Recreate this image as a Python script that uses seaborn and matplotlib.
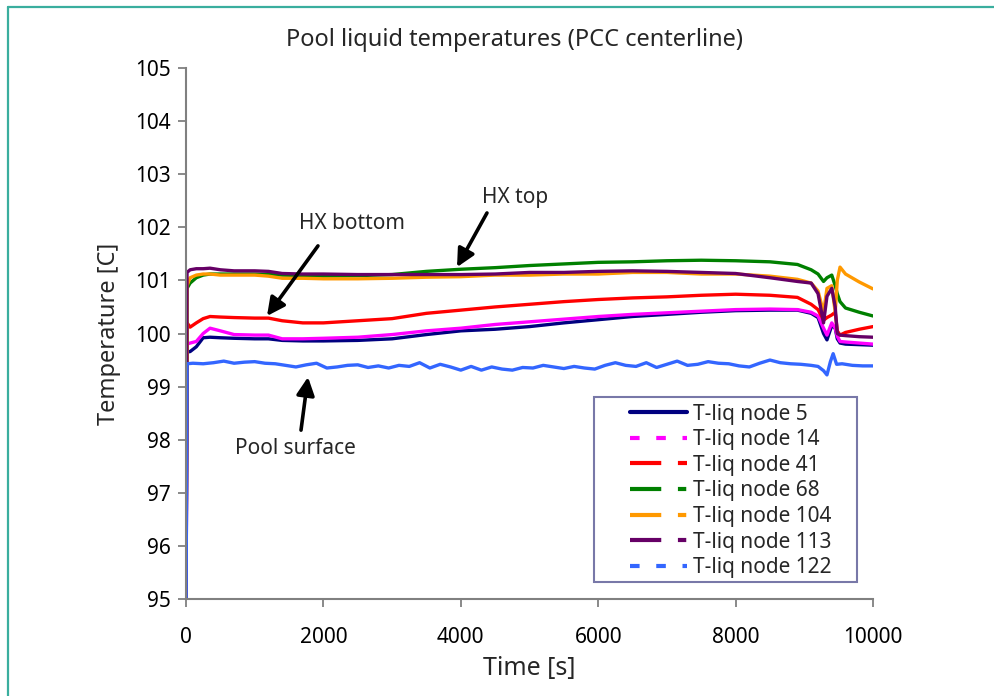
import matplotlib
matplotlib.use("Agg")
import matplotlib.pyplot as plt
from matplotlib.lines import Line2D
from matplotlib.patches import Rectangle
import seaborn as sns
import pandas as pd

# ---------------- data ----------------
time_s = [0, 15, 60, 150, 250, 350, 500, 700, 1000, 1200, 1400, 1700, 2000, 2500,
          3000, 3500, 4000, 4500, 5000, 5500, 6000, 6500, 7000, 7500, 8000, 8500,
          8900, 9100, 9200, 9280, 9330, 9400, 9450, 9480, 9520, 9600, 9800, 10000]

node5 = [94.5, 99.65, 99.66, 99.75, 99.92, 99.93, 99.92, 99.91, 99.90, 99.90, 99.87,
         99.86, 99.86, 99.87, 99.90, 99.98, 100.05, 100.08, 100.13, 100.20, 100.26,
         100.32, 100.36, 100.40, 100.43, 100.44, 100.44, 100.38, 100.30, 100.00,
         99.88, 100.15, 100.10, 99.90, 99.82, 99.80, 99.79, 99.78]

node14 = [94.5, 99.80, 99.82, 99.85, 100.00, 100.10, 100.05, 99.98, 99.97, 99.97, 99.90,
          99.90, 99.91, 99.93, 99.98, 100.05, 100.10, 100.17, 100.22, 100.27, 100.32,
          100.36, 100.39, 100.42, 100.45, 100.46, 100.45, 100.40, 100.33, 100.10,
          99.97, 100.20, 100.10, 99.95, 99.85, 99.84, 99.82, 99.80]

node41 = [94.5, 100.20, 100.12, 100.20, 100.28, 100.32, 100.31, 100.30, 100.29, 100.29,
          100.24, 100.20, 100.20, 100.24, 100.28, 100.38, 100.44, 100.50, 100.55, 100.60,
          100.64, 100.67, 100.69, 100.72, 100.74, 100.72, 100.68, 100.55, 100.45, 100.25,
          100.30, 100.35, 100.40, 100.05, 99.97, 100.02, 100.08, 100.13]

node68 = [94.5, 100.85, 100.95, 101.05, 101.10, 101.12, 101.12, 101.12, 101.12, 101.11,
          101.10, 101.09, 101.08, 101.09, 101.11, 101.17, 101.21, 101.24, 101.28, 101.31,
          101.34, 101.35, 101.37, 101.38, 101.37, 101.35, 101.30, 101.20, 101.12, 100.98,
          101.05, 101.10, 100.90, 100.75, 100.60, 100.48, 100.40, 100.33]

node104 = [94.5, 100.90, 101.05, 101.10, 101.12, 101.12, 101.10, 101.10, 101.10, 101.08,
           101.04, 101.04, 101.03, 101.03, 101.04, 101.06, 101.07, 101.10, 101.10, 101.12,
           101.12, 101.15, 101.15, 101.12, 101.12, 101.08, 101.02, 100.95, 100.80, 100.40,
           100.85, 100.90, 100.40, 101.00, 101.25, 101.12, 100.97, 100.84]

node113 = [94.5, 101.15, 101.20, 101.22, 101.22, 101.23, 101.20, 101.18, 101.18, 101.17,
           101.13, 101.12, 101.12, 101.11, 101.11, 101.11, 101.11, 101.12, 101.15, 101.15,
           101.17, 101.18, 101.17, 101.15, 101.13, 101.05, 100.98, 100.95, 100.75, 100.20,
           100.70, 100.85, 100.50, 100.00, 99.97, 99.96, 99.94, 99.93]

time_122 = [0, 15, 100, 250, 400, 550, 700, 850, 1000, 1150, 1300, 1450, 1600, 1750, 1900,
            2050, 2200, 2350, 2500, 2650, 2800, 2950, 3100, 3250, 3400, 3550, 3700, 3850,
            4000, 4150, 4300, 4450, 4600, 4750, 4900, 5050, 5200, 5350, 5500, 5650, 5800,
            5950, 6100, 6250, 6400, 6550, 6700, 6850, 7000, 7150, 7300, 7450, 7600, 7750,
            7900, 8050, 8200, 8350, 8500, 8650, 8800, 8950, 9100, 9200, 9280, 9330, 9380,
            9420, 9470, 9550, 9700, 9850, 10000]
node122 = [94.5, 99.43, 99.44, 99.43, 99.45, 99.48, 99.44, 99.46, 99.47, 99.44, 99.43,
           99.40, 99.37, 99.41, 99.44, 99.35, 99.37, 99.40, 99.41, 99.36, 99.39, 99.35,
           99.40, 99.38, 99.45, 99.35, 99.42, 99.37, 99.31, 99.38, 99.31, 99.37, 99.33,
           99.31, 99.36, 99.35, 99.40, 99.37, 99.34, 99.38, 99.35, 99.33, 99.40, 99.45,
           99.40, 99.38, 99.45, 99.36, 99.42, 99.48, 99.40, 99.42, 99.47, 99.44, 99.43,
           99.39, 99.37, 99.44, 99.50, 99.45, 99.43, 99.42, 99.40, 99.38, 99.30, 99.22,
           99.47, 99.62, 99.42, 99.43, 99.40, 99.39, 99.39]

labels = ["T-liq node 5", "T-liq node 14", "T-liq node 41", "T-liq node 68",
          "T-liq node 104", "T-liq node 113", "T-liq node 122"]
colors = ["#000080", "#FF00FF", "#FF0000", "#008000", "#FF9900", "#660066", "#3366FF"]
dash_styles = ["-", (0, (2.3, 4.0)), (0, (7.5, 4.0)), (0, (7.5, 4.0, 2.0, 4.0)),
               (0, (7.5, 4.0, 2.0, 4.0)), (0, (7.5, 4.0, 2.0, 4.0)), (0, (2.3, 4.0))]

series_times = [time_s] * 6 + [time_122]
series_vals = [node5, node14, node41, node68, node104, node113, node122]

# ---------------- figure ----------------
sns.set_theme(style="white")
plt.rcParams["font.family"] = ["Noto Sans", "DejaVu Sans"]

fig = plt.figure(figsize=(9.95, 6.96), dpi=100)
ax = fig.add_axes([186 / 995, 1 - 599 / 696, 687 / 995, 531 / 696])

for t, v, c, lab in zip(series_times, series_vals, colors, labels):
    df = pd.DataFrame({"t": t, "v": v})
    sns.lineplot(data=df, x="t", y="v", ax=ax, color=c, lw=2.4, legend=False,
                 estimator=None)

ax.set_xlim(0, 10000)
ax.set_ylim(95, 105)
ax.set_xticks(range(0, 10001, 2000))
ax.set_yticks(range(95, 106, 1))
for s in ["top", "right"]:
    ax.spines[s].set_visible(False)
for s in ["left", "bottom"]:
    ax.spines[s].set_color("#808080")
    ax.spines[s].set_linewidth(1.5)
ax.tick_params(axis="both", direction="out", length=6, width=1.3, color="#808080",
               labelsize=15, labelcolor="black", pad=5, left=True, bottom=True)
ax.tick_params(axis="x", pad=14)

ax.set_xlabel("Time [s]", fontsize=18, labelpad=6)
ax.set_ylabel("Temperature [C]", fontsize=17, labelpad=10)
fig.text(515 / 995, 1 - 40 / 696, "Pool liquid temperatures (PCC centerline)",
         ha="center", va="center", fontsize=17)

arrow = dict(arrowstyle="-|>,head_length=0.9,head_width=0.45", color="black", lw=2.6,
             shrinkA=0, shrinkB=0)
ax.annotate("", xy=(1179, 100.33), xytext=(1921, 101.65), arrowprops=arrow)
ax.text(2420, 102.08, "HX bottom", ha="center", va="center", fontsize=15)
ax.annotate("", xy=(3945, 101.25), xytext=(4381, 102.27), arrowprops=arrow)
ax.text(4790, 102.57, "HX top", ha="center", va="center", fontsize=15)
ax.annotate("", xy=(1776, 99.18), xytext=(1674, 98.18), arrowprops=arrow)
ax.text(1600, 97.84, "Pool surface", ha="center", va="center", fontsize=15)

# legend box and entries
ax.add_patch(Rectangle((0.594, 0.032), 0.9767 - 0.594, 0.3804 - 0.032,
                       transform=ax.transAxes, fill=True, facecolor="white",
                       edgecolor="#7878A8", lw=1.5, zorder=4))
handles = [Line2D([0], [0], color=c, lw=3, ls=ls) for c, ls in zip(colors, dash_styles)]
leg = ax.legend(handles, labels, loc="upper left", bbox_to_anchor=(0.6463, 0.368),
                fontsize=15, frameon=False, handlelength=2.75,
                handletextpad=0.25, labelspacing=0.22, borderpad=0,
                borderaxespad=0)
leg.set_zorder(5)

# outer chart border (teal)
fig.add_artist(Line2D([8 / 995, 8 / 995], [0, 1 - 7 / 696], transform=fig.transFigure,
                      color="#3AAE9E", lw=1.6))
fig.add_artist(Line2D([8 / 995, 1], [1 - 7 / 696, 1 - 7 / 696], transform=fig.transFigure,
                      color="#3AAE9E", lw=1.6))

fig.savefig("out.png", dpi=100)
